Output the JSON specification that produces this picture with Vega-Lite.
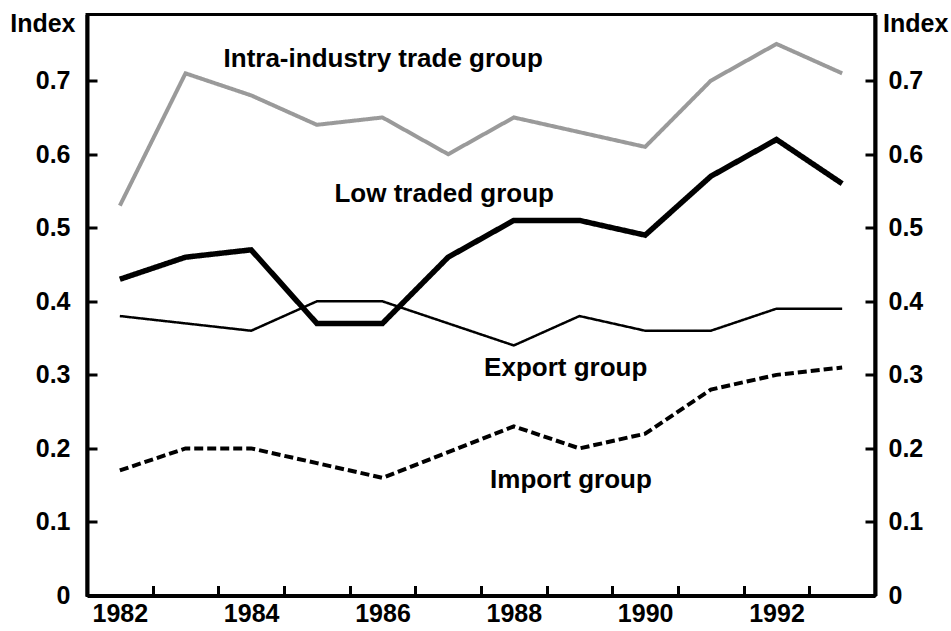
{
  "$schema": "https://vega.github.io/schema/vega-lite/v6.json",
  "width": 788,
  "height": 581,
  "autosize": {"type": "none"},
  "padding": {"left": 87, "top": 14.5, "right": 76, "bottom": 35.5},
  "background": "white",
  "config": {
    "view": {"stroke": "black", "strokeWidth": 3},
    "font": "Liberation Sans",
    "axis": {
      "labelFont": "Liberation Sans",
      "labelFontWeight": "bold",
      "labelFontSize": 25,
      "labelColor": "black",
      "titleFont": "Liberation Sans",
      "titleFontWeight": "bold",
      "titleFontSize": 25,
      "titleColor": "black",
      "domainColor": "black",
      "domainWidth": 4,
      "tickColor": "black",
      "tickWidth": 3,
      "grid": false,
      "labelFlush": false,
      "labelOverlap": false
    }
  },
  "datasets": {
    "series": [
      {"year": 1982, "group": "Intra-industry trade group", "value": 0.53},
      {"year": 1983, "group": "Intra-industry trade group", "value": 0.71},
      {"year": 1984, "group": "Intra-industry trade group", "value": 0.68},
      {"year": 1985, "group": "Intra-industry trade group", "value": 0.64},
      {"year": 1986, "group": "Intra-industry trade group", "value": 0.65},
      {"year": 1987, "group": "Intra-industry trade group", "value": 0.60},
      {"year": 1988, "group": "Intra-industry trade group", "value": 0.65},
      {"year": 1989, "group": "Intra-industry trade group", "value": 0.63},
      {"year": 1990, "group": "Intra-industry trade group", "value": 0.61},
      {"year": 1991, "group": "Intra-industry trade group", "value": 0.70},
      {"year": 1992, "group": "Intra-industry trade group", "value": 0.75},
      {"year": 1993, "group": "Intra-industry trade group", "value": 0.71},
      {"year": 1982, "group": "Low traded group", "value": 0.43},
      {"year": 1983, "group": "Low traded group", "value": 0.46},
      {"year": 1984, "group": "Low traded group", "value": 0.47},
      {"year": 1985, "group": "Low traded group", "value": 0.37},
      {"year": 1986, "group": "Low traded group", "value": 0.37},
      {"year": 1987, "group": "Low traded group", "value": 0.46},
      {"year": 1988, "group": "Low traded group", "value": 0.51},
      {"year": 1989, "group": "Low traded group", "value": 0.51},
      {"year": 1990, "group": "Low traded group", "value": 0.49},
      {"year": 1991, "group": "Low traded group", "value": 0.57},
      {"year": 1992, "group": "Low traded group", "value": 0.62},
      {"year": 1993, "group": "Low traded group", "value": 0.56},
      {"year": 1982, "group": "Export group", "value": 0.38},
      {"year": 1983, "group": "Export group", "value": 0.37},
      {"year": 1984, "group": "Export group", "value": 0.36},
      {"year": 1985, "group": "Export group", "value": 0.40},
      {"year": 1986, "group": "Export group", "value": 0.40},
      {"year": 1987, "group": "Export group", "value": 0.37},
      {"year": 1988, "group": "Export group", "value": 0.34},
      {"year": 1989, "group": "Export group", "value": 0.38},
      {"year": 1990, "group": "Export group", "value": 0.36},
      {"year": 1991, "group": "Export group", "value": 0.36},
      {"year": 1992, "group": "Export group", "value": 0.39},
      {"year": 1993, "group": "Export group", "value": 0.39},
      {"year": 1982, "group": "Import group", "value": 0.17},
      {"year": 1983, "group": "Import group", "value": 0.20},
      {"year": 1984, "group": "Import group", "value": 0.20},
      {"year": 1985, "group": "Import group", "value": 0.18},
      {"year": 1986, "group": "Import group", "value": 0.16},
      {"year": 1987, "group": "Import group", "value": 0.195},
      {"year": 1988, "group": "Import group", "value": 0.23},
      {"year": 1989, "group": "Import group", "value": 0.20},
      {"year": 1990, "group": "Import group", "value": 0.22},
      {"year": 1991, "group": "Import group", "value": 0.28},
      {"year": 1992, "group": "Import group", "value": 0.30},
      {"year": 1993, "group": "Import group", "value": 0.31}
    ],
    "labels": [
      {"label": "Intra-industry trade group", "year": 1986.01, "value": 0.719},
      {"label": "Low traded group", "year": 1986.94, "value": 0.535},
      {"label": "Export group", "year": 1988.79, "value": 0.299},
      {"label": "Import group", "year": 1988.87, "value": 0.146}
    ]
  },
  "layer": [
    {
      "data": {"name": "series"},
      "mark": {"type": "line", "strokeCap": "butt", "strokeJoin": "miter"},
      "encoding": {
        "x": {
          "field": "year", "type": "quantitative",
          "scale": {"domain": [1981.5, 1993.5], "nice": false, "zero": false},
          "axis": {
            "orient": "bottom", "title": null,
            "values": [1982, 1984, 1986, 1988, 1990, 1992],
            "format": "d", "ticks": false, "labelPadding": 6
          }
        },
        "y": {
          "field": "value", "type": "quantitative",
          "scale": {"domain": [0, 0.79], "nice": false, "zero": true},
          "axis": {
            "orient": "left",
            "title": "Index", "titleAngle": 0, "titleAlign": "right",
            "titleBaseline": "alphabetic", "titleX": -12, "titleY": 17,
            "values": [0, 0.1, 0.2, 0.3, 0.4, 0.5, 0.6, 0.7],
            "format": ".1~f", "ticks": false, "labelPadding": 17
          }
        },
        "color": {
          "field": "group", "type": "nominal", "legend": null,
          "scale": {
            "domain": ["Intra-industry trade group", "Low traded group", "Export group", "Import group"],
            "range": ["#9a9a9a", "#000000", "#000000", "#000000"]
          }
        },
        "strokeWidth": {
          "field": "group", "type": "ordinal", "legend": null,
          "scale": {
            "type": "ordinal",
            "domain": ["Intra-industry trade group", "Low traded group", "Export group", "Import group"],
            "range": [4, 5.5, 2.5, 4]
          }
        },
        "strokeDash": {
          "field": "group", "type": "nominal", "legend": null,
          "scale": {
            "domain": ["Intra-industry trade group", "Low traded group", "Export group", "Import group"],
            "range": [[1, 0], [1, 0], [1, 0], [9, 4]]
          }
        }
      }
    },
    {
      "data": {"name": "labels"},
      "transform": [{"filter": "datum.label === 'Intra-industry trade group' || datum.label === 'Low traded group'"}],
      "mark": {"type": "text", "font": "Liberation Sans", "fontWeight": "bold", "fontSize": 26, "color": "black", "align": "center", "baseline": "alphabetic"},
      "encoding": {
        "x": {
          "field": "year", "type": "quantitative",
          "axis": {
            "orient": "top", "offset": -581, "title": null,
            "values": [1982.5, 1983.5, 1984.5, 1985.5, 1986.5, 1987.5, 1988.5, 1989.5, 1990.5, 1991.5, 1992.5],
            "labels": false, "domain": false, "ticks": true, "tickSize": 10
          }
        },
        "y": {
          "field": "value", "type": "quantitative",
          "axis": {
            "orient": "right",
            "title": "Index", "titleAngle": 0, "titleAlign": "left",
            "titleBaseline": "alphabetic", "titleX": 7.5, "titleY": 17,
            "values": [0, 0.1, 0.2, 0.3, 0.4, 0.5, 0.6, 0.7],
            "format": ".1~f", "ticks": false, "labelPadding": 13
          }
        },
        "text": {"field": "label", "type": "nominal"}
      }
    },
    {
      "data": {"name": "labels"},
      "transform": [{"filter": "datum.label === 'Export group'"}],
      "mark": {"type": "text", "font": "Liberation Sans", "fontWeight": "bold", "fontSize": 26, "color": "black", "align": "center", "baseline": "alphabetic"},
      "encoding": {
        "x": {"field": "year", "type": "quantitative", "axis": null},
        "y": {
          "field": "value", "type": "quantitative",
          "axis": {
            "orient": "right", "offset": -788, "title": null,
            "values": [0.1, 0.2, 0.3, 0.4, 0.5, 0.6, 0.7],
            "labels": false, "domain": false, "ticks": true, "tickSize": 10
          }
        },
        "text": {"field": "label", "type": "nominal"}
      }
    },
    {
      "data": {"name": "labels"},
      "transform": [{"filter": "datum.label === 'Import group'"}],
      "mark": {"type": "text", "font": "Liberation Sans", "fontWeight": "bold", "fontSize": 26, "color": "black", "align": "center", "baseline": "alphabetic"},
      "encoding": {
        "x": {"field": "year", "type": "quantitative", "axis": null},
        "y": {
          "field": "value", "type": "quantitative",
          "axis": {
            "orient": "left", "offset": -788, "title": null,
            "values": [0.1, 0.2, 0.3, 0.4, 0.5, 0.6, 0.7],
            "labels": false, "domain": false, "ticks": true, "tickSize": 10
          }
        },
        "text": {"field": "label", "type": "nominal"}
      }
    }
  ],
  "resolve": {"axis": {"x": "independent", "y": "independent"}}
}
